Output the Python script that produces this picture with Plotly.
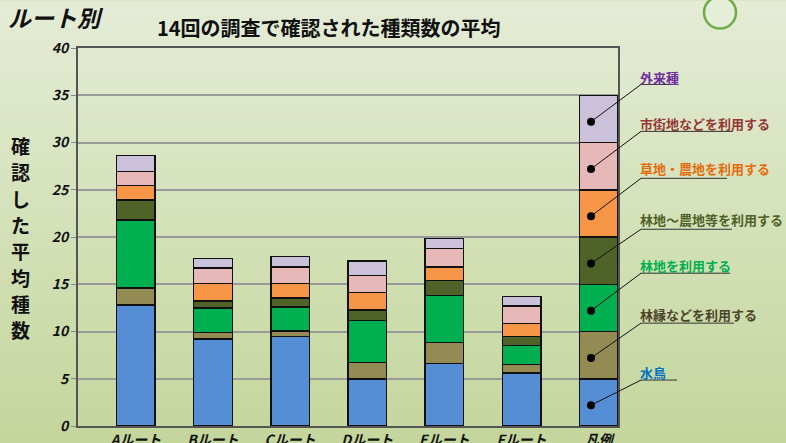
import plotly.graph_objects as go

# ---------------- data ----------------
categories = ["Aルート", "Bルート", "Cルート", "Dルート", "Eルート", "Fルート", "凡例"]
series_names = ["水鳥", "林縁などを利用する", "林地を利用する", "林地～農地等を利用する",
                "草地・農地を利用する", "市街地などを利用する", "外来種"]
waterbirds  = [12.8, 9.2, 9.47, 5.0, 6.62, 5.6, 5]
forest_edge = [1.8, 0.67, 0.6, 1.72, 2.22, 0.91, 5]
forest      = [7.2, 2.64, 2.53, 4.44, 4.96, 2.01, 5]
forest_farm = [2.1, 0.73, 0.95, 1.12, 1.58, 0.95, 5]
grass_farm  = [1.55, 1.84, 1.52, 1.83, 1.44, 1.37, 5]
urban       = [1.5, 1.65, 1.73, 1.83, 1.94, 1.86, 5]
alien       = [1.7, 0.98, 1.15, 1.52, 1.06, 1.0, 5]
y_ticks = [0, 5, 10, 15, 20, 25, 30, 35, 40]
y_title = "確認した平均種数"

series_values = [waterbirds, forest_edge, forest, forest_farm, grass_farm, urban, alien]
bar_colors = ["#558ED5", "#948A54", "#00B050", "#4F6228", "#F79646", "#E6B9B8", "#CCC1DA"]
label_colors = ["#0070C0", "#4A452A", "#00B050", "#4F6228", "#E46C0A", "#953735", "#7030A0"]

# ---------------- layout helpers (pixel -> paper) ----------------
W, H = 786, 443
L, R, T, B = 78, 618, 47.5, 426
def pxx(x): return (x - L) / (R - L)
def pxy(y): return (B - y) / (B - T)

FONT = "Noto Sans CJK JP"
xs = list(range(len(categories)))

fig = go.Figure()
for name, vals, col in zip(series_names, series_values, bar_colors):
    fig.add_trace(go.Bar(x=xs, y=vals, name=name, width=0.5,
                         marker=dict(color=col, line=dict(color="#111", width=1.5)),
                         showlegend=False, hoverinfo="y+name"))

# legend-bar dots (inside each segment of the 凡例 bar)
legend_idx = len(categories) - 1
dot_x = legend_idx - 0.1
cum = 0
dot_y = []
for vals in series_values:
    dot_y.append(cum + vals[legend_idx] * 0.44)
    cum += vals[legend_idx]
fig.add_trace(go.Scatter(x=[dot_x] * len(dot_y), y=dot_y, mode="markers",
                         marker=dict(color="#000", size=8), showlegend=False,
                         cliponaxis=False, hoverinfo="skip"))

shapes = []
# background gradient
N = 80
top_c = (228, 236, 214)
bot_c = (196, 214, 156)
for i in range(N):
    t = i / (N - 1)
    c = tuple(round(top_c[k] + (bot_c[k] - top_c[k]) * t) for k in range(3))
    y0 = i * H / N
    y1 = (i + 1) * H / N + 0.6
    shapes.append(dict(type="rect", xref="paper", yref="paper",
                       x0=pxx(0), x1=pxx(W), y0=pxy(y1), y1=pxy(y0),
                       fillcolor="rgb(%d,%d,%d)" % c, line=dict(width=0), layer="below"))
# decorative circle top right
shapes.append(dict(type="circle", xref="paper", yref="paper",
                   x0=pxx(704), x1=pxx(736), y0=pxy(28), y1=pxy(-4),
                   fillcolor="#E5EED9", line=dict(color="#70AD47", width=2.5)))

# legend labels: (text center y, underline y, underline end x) in pixels
label_pos = [(372, 380, 677), (314, 323, 734), (265, 273, 730), (219, 229, 732),
             (168, 178, 727), (123, 131, 733), (77, 84, 678)]
annotations = []
xr0, xr1 = -0.75, 6.25
ymax = 40
for name, col, dy, (ty, uy, ux) in zip(series_names, label_colors, dot_y, label_pos):
    annotations.append(dict(text="<b>%s</b>" % name, xref="paper", yref="paper",
                            x=pxx(638), y=pxy(ty), xanchor="left", yanchor="middle",
                            showarrow=False, font=dict(family=FONT, size=13, color=col)))
    shapes.append(dict(type="line", xref="paper", yref="paper",
                       x0=pxx(641), x1=pxx(ux), y0=pxy(uy), y1=pxy(uy),
                       line=dict(color="#333", width=1)))
    shapes.append(dict(type="line", xref="paper", yref="paper",
                       x0=(dot_x - xr0) / (xr1 - xr0), y0=dy / ymax,
                       x1=pxx(641), y1=pxy(uy), line=dict(color="#111", width=1)))

annotations.append(dict(text="<b>ルート別</b>", xref="paper", yref="paper",
                        x=pxx(6), y=pxy(16), xanchor="left", yanchor="middle", showarrow=False,
                        font=dict(family=FONT, size=23, color="#111", style="italic")))
annotations.append(dict(text="<b>14回の調査で確認された種類数の平均</b>", xref="paper", yref="paper",
                        x=pxx(329), y=pxy(27), xanchor="center", yanchor="middle", showarrow=False,
                        font=dict(family=FONT, size=20, color="#111")))
# vertical (stacked) y-axis title, one character per line
for i, ch in enumerate(y_title):
    annotations.append(dict(text="<b>%s</b>" % ch, xref="paper", yref="paper",
                            x=pxx(20), y=pxy(145 + i * 26.4),
                            xanchor="center", yanchor="middle", showarrow=False,
                            font=dict(family=FONT, size=19, color="#111")))

tickfont = dict(family=FONT, size=14, color="#111", weight="bold", style="italic")
fig.update_layout(
    template="none",
    width=W, height=H,
    margin=dict(l=L, r=W - R, t=T, b=H - B, pad=0),
    barmode="stack",
    paper_bgcolor="rgb(210,224,180)",
    plot_bgcolor="rgba(0,0,0,0)",
    shapes=shapes,
    annotations=annotations,
    showlegend=False,
    xaxis=dict(range=[xr0, xr1], tickvals=xs, ticktext=categories, showgrid=False,
               showline=True, linecolor="#555", linewidth=2, mirror=True, ticks="",
               tickfont=tickfont, automargin=False, zeroline=False, fixedrange=True),
    yaxis=dict(range=[0, ymax], tickvals=y_ticks, showgrid=True, gridcolor="#9a9a9a",
               gridwidth=1.5, showline=True, linecolor="#555", linewidth=2, mirror=True,
               ticks="outside", ticklen=5, tickcolor="#888", tickfont=tickfont,
               automargin=False, zeroline=False, fixedrange=True),
)

fig.write_html("out.html")
